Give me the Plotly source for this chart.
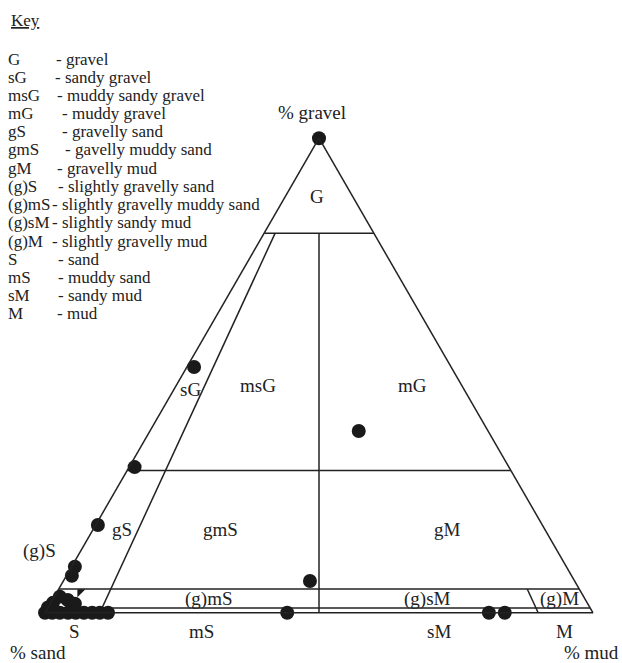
import plotly.graph_objects as go

W, H = 622, 663

# ---------------- data (percent gravel / sand / mud) ----------------
sample_gravel = [100, 51.8, 38.3, 30.7, 18.5, 9.7, 7.8, 6.7, 0, 0, 0,
                 0, 0, 0, 0, 0, 0, 0, 0, 0,
                 2.1, 3.4, 2.7, 1.9, 1.1]
sample_mud = [0, 1.3, 38.1, 1.0, 0.4, 0.6, 1.0, 45.0, 44.2, 81.0, 83.9,
              0, 1.3, 2.7, 4.2, 5.6, 7.1, 8.6, 10.0, 11.5,
              0.4, 1.0, 2.8, 4.5, 0.0]
sample_sand = [100 - g - m for g, m in zip(sample_gravel, sample_mud)]

tri_gravel = [4.4]
tri_mud = [4.2]
tri_sand = [100 - tri_gravel[0] - tri_mud[0]]

# Folk class boundaries
gravel_levels = [80, 30, 5, 1]                # horizontal boundaries (% gravel)
ratio_mud = [0.1, 0.5, 0.9]                    # mud/(sand+mud) ratio lines
ratio_top = [80, 80, 5]                        # gravel % where each ratio line starts
ratio_bottom = [0, 0, 0]                       # gravel % where each ratio line ends

key_abbr = ["G", "sG", "msG", "mG", "gS", "gmS", "gM", "(g)S", "(g)mS",
            "(g)sM", "(g)M", "S", "mS", "sM", "M"]
key_desc = ["- gravel", "- sandy gravel", "- muddy sandy gravel", "- muddy gravel",
            "- gravelly sand", "- gavelly muddy sand", "- gravelly mud",
            "- slightly gravelly sand", "- slightly gravelly muddy sand",
            "- slightly sandy mud", "- slightly gravelly mud", "- sand",
            "- muddy sand", "- sandy mud", "- mud"]

region_text = ["G", "sG", "msG", "mG", "gS", "gmS", "gM", "(g)S", "(g)mS",
               "(g)sM", "(g)M", "S", "mS", "sM", "M"]

# ---------------- figure ----------------
LINE = dict(color="#222222", width=1.5)
fig = go.Figure()

for g in gravel_levels:
    fig.add_trace(go.Scatterternary(a=[g, g], b=[100 - g, 0], c=[0, 100 - g],
                                    mode="lines", line=LINE, hoverinfo="skip",
                                    showlegend=False, cliponaxis=False))
for r, gt, gb in zip(ratio_mud, ratio_top, ratio_bottom):
    fig.add_trace(go.Scatterternary(
        a=[gt, gb], b=[(100 - gt) * (1 - r), (100 - gb) * (1 - r)],
        c=[(100 - gt) * r, (100 - gb) * r],
        mode="lines", line=LINE, hoverinfo="skip", showlegend=False,
        cliponaxis=False))

fig.add_trace(go.Scatterternary(a=sample_gravel, b=sample_sand, c=sample_mud,
                                mode="markers", cliponaxis=False,
                                marker=dict(size=14, color="#1a1a1a"),
                                showlegend=False))
fig.add_trace(go.Scatterternary(a=tri_gravel, b=tri_sand, c=tri_mud,
                                mode="markers", cliponaxis=False,
                                marker=dict(size=9, color="#1a1a1a", symbol="triangle-nw"),
                                showlegend=False))

axis = dict(showticklabels=False, ticks="", showgrid=False, linecolor="#222222",
            linewidth=1.5, title=dict(text=""), min=0)

SERIF = "Liberation Serif"
anns = []


def ann(text, px, py, size, xanchor="center", yanchor="middle"):
    anns.append(dict(text=text, x=px / W, y=1 - py / H, xref="paper", yref="paper",
                     xanchor=xanchor, yanchor=yanchor, showarrow=False,
                     font=dict(family=SERIF, size=size, color="#222222")))


# Key
ann("<u>Key</u>", 9, 20, 17, xanchor="left")
desc_x = [54, 53, 55, 60, 60, 63, 55, 56, 50, 50, 50, 56, 56, 56, 55]
for i, (a_, d_) in enumerate(zip(key_abbr, key_desc)):
    y = 59 + i * 18.2
    ann(a_, 6, y, 17, xanchor="left")
    ann(d_, desc_x[i], y, 17, xanchor="left")

# axis titles
ann("% gravel", 312, 112, 19)
ann("% sand", 38, 652, 19)
ann("% mud", 591, 652, 19)

# region labels
region_xy = [(317, 196), (190, 389), (258, 385), (412, 385), (122, 529),
             (220, 529), (447, 529), (39, 551), (209, 599), (427, 599),
             (559, 599), (74, 631), (202, 631), (439, 631), (564, 631)]
for t, (x, y) in zip(region_text, region_xy):
    ann(t, x, y, 19)

fig.update_layout(
    width=W, height=H, margin=dict(l=0, r=0, t=0, b=0),
    paper_bgcolor="white", plot_bgcolor="white",
    ternary=dict(sum=100, bgcolor="white",
                 domain=dict(x=[45 / W, 593 / W], y=[50 / H, 525 / H]),
                 aaxis=axis, baxis=axis, caxis=axis),
    annotations=anns, showlegend=False,
)

fig.write_html("out.html", config={"displayModeBar": False},
               post_script="document.body.style.margin='0px';"
                           "document.body.style.overflow='hidden';")
